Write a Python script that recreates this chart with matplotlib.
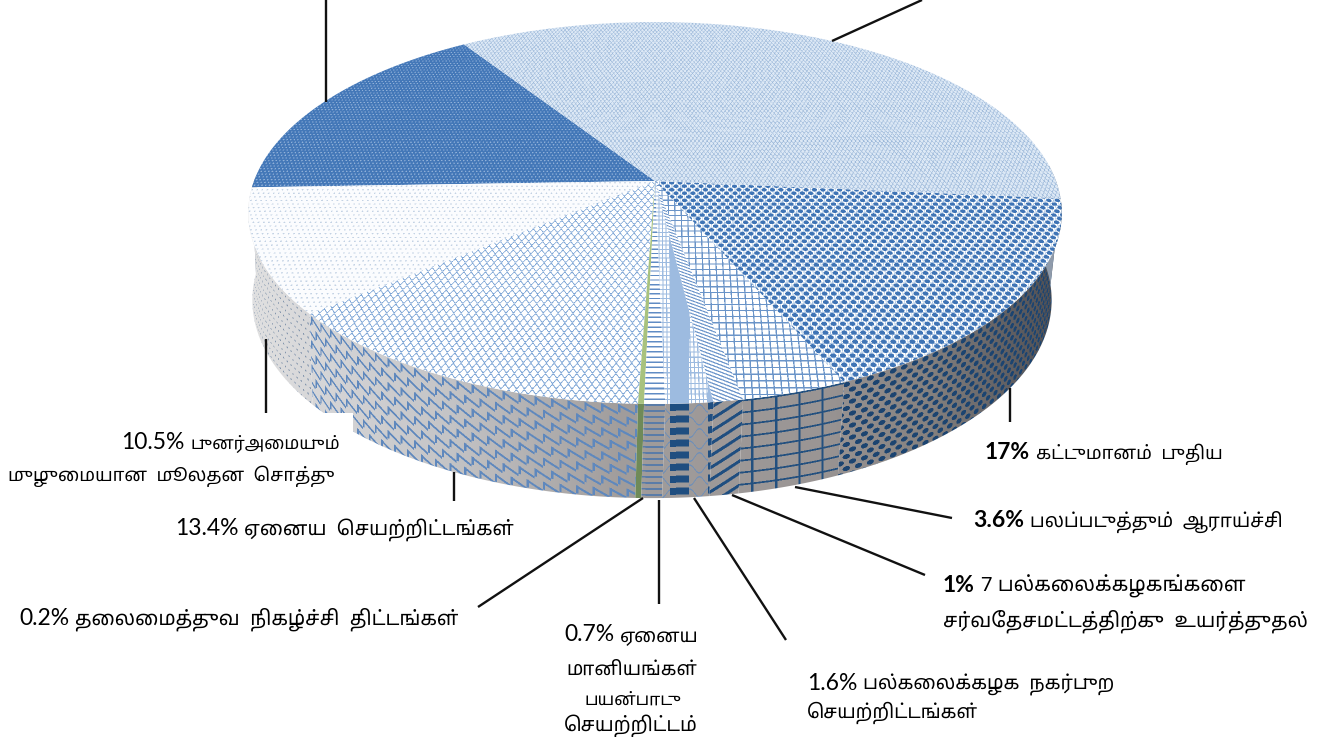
import numpy as np
import matplotlib
matplotlib.use("Agg")
import matplotlib.pyplot as plt
from matplotlib.patches import Polygon, Rectangle

W, H = 1327, 737

slice_names = ["dark", "white", "other", "lead", "grants", "campus", "intl", "research", "build", "big"]
slice_values = [16.4, 10.5, 13.4, 0.2, 0.7, 1.6, 1.0, 3.6, 17.0, 35.6]
start_angle = 122.9

pct_labels = ["10.5%", "13.4%", "0.2%", "0.7%", "1.6%", "1%", "3.6%", "17%"]
pct_bold = [False, False, False, False, False, True, True, True]
tamil_labels = [
    ["புனர்அமையும்", "முழுமையான  மூலதன  சொத்து"],
    ["ஏனைய  செயற்றிட்டங்கள்"],
    ["தலைமைத்துவ  நிகழ்ச்சி  திட்டங்கள்"],
    ["ஏனைய", "மானியங்கள்", "பயன்பாடு", "செயற்றிட்டம்"],
    ["பல்கலைக்கழக  நகர்புற", "செயற்றிட்டங்கள்"],
    ["7 பல்கலைக்கழகங்களை", "சர்வதேசமட்டத்திற்கு  உயர்த்துதல்"],
    ["பலப்படுத்தும்  ஆராய்ச்சி"],
    ["கட்டுமானம்  புதிய"],
]
# (x, baseline, right end) of each line
label_pos = [
    [(121, 449, 336), (8, 481, 334)],
    [(175, 535, 514)],
    [(19, 625, 458)],
    [(564, 641, 699), (566, 675, 697), (584, 705, 680), (564, 731, 698)],
    [(807, 690, 1115), (807, 718, 978)],
    [(943, 592, 1245), (943, 627, 1308)],
    [(973, 527, 1283)],
    [(985, 459, 1223)],
]
leaders = [
    [(326, 0), (326, 102)], [(922, 0), (832, 41)], [(266, 339), (266, 413)],
    [(454, 472), (454, 501)], [(643, 498), (478, 607)], [(659, 500), (659, 604)],
    [(694, 498), (786, 640)], [(732, 495), (925, 575)], [(795, 487), (952, 518)],
    [(1010, 388), (1010, 422)],
]

# pie top as a circle seen in perspective
K = 0.1675
TOP = dict(cx=655.0, cy=181.0, A=401.0, B=185.6)
BOT = dict(cx=652.0, cy=267.0, A=394.0, B=192.4)


def project(t, g):
    u, v = np.cos(t), np.sin(t)
    w = 1 + K * v
    return g["cx"] + g["A"] * u / w, g["cy"] - g["B"] * v / w


# pixel grid, 2x so patterns get some antialiasing
xs = (np.arange(W * 2) + 0.5) / 2
ys = (np.arange(H * 2) + 0.5) / 2
X, Y = np.meshgrid(xs, ys)
dy = TOP["cy"] - Y
v_ = dy / (TOP["B"] - K * dy)
w_ = 1 + K * v_
u_ = (X - TOP["cx"]) * w_ / TOP["A"]
S_top = u_ * TOP["A"] / (1 - K)
T_top = v_ * TOP["B"] / (1 - K) ** 2

rim_y = 213 + 191 * np.sqrt(np.clip(1 - ((X - 655) / 407) ** 2, 0, 1))
S_wall = 400 * np.arcsin(np.clip((X - 652) / 400, -1, 1))
T_wall = Y - rim_y


def down(mask):
    m = mask.astype(float)
    return (m[::2, ::2] + m[1::2, ::2] + m[::2, 1::2] + m[1::2, 1::2]) / 4


def hlines(t, py, lw):
    return (t % py) < lw


def vlines(s, px, lw):
    return (s % px) < lw


def wave(s, t, px, py, lw):
    row = np.floor(t / py)
    fs = (s / px + 0.5 * (row % 2)) % 1
    ft = (t / py) % 1
    arc = 0.5 + 0.34 * np.cos(2 * np.pi * fs)
    return np.abs(ft - arc) * py < lw / 2


def scales(s, t, px, py, lw):
    # sloped strokes with a short upright, like overlapping tiles
    row = np.floor(t / py)
    fs = (s / px + 0.5 * (row % 2)) % 1
    ft = (t / py) % 1
    slope = np.abs(ft - (0.15 + 0.7 * fs)) * py < lw / 2
    upright = (fs * px < lw) & (ft > 0.1) & (ft < 0.75)
    return slope | upright


def dots(s, t, px, py, rx, ry):
    row = np.floor(t / py)
    fs = ((s / px + 0.5 * (row % 2)) % 1 - 0.5) * px
    ft = ((t / py) % 1 - 0.5) * py
    return (fs / rx) ** 2 + (ft / ry) ** 2 < 1


def hexc(c):
    c = c.lstrip("#")
    return np.array([int(c[i:i + 2], 16) / 255 for i in (0, 2, 4)])


def paint(mask, bg, fg):
    m = down(mask)[..., None]
    return bg * (1 - m) + fg * m


def flat(c):
    return np.broadcast_to(hexc(c), (H, W, 3))


def top_image(name):
    s, t = S_top, T_top
    if name == "dark":
        return paint(dots(s, t, 4.5, 4.0, 1.0, 1.0), flat("#4478b8"), flat("#8fb0d8"))
    if name == "white":
        return paint(dots(s, t, 6.0, 5.0, 1.1, 0.9), flat("#fbfcfe"), flat("#c3d2e4"))
    if name == "other":
        return paint(wave(s, t, 8.0, 5.5, 1.5), flat("#ffffff"), flat("#7ea6d6"))
    if name == "lead":
        return flat("#a8c27e")
    if name == "grants":
        return paint(hlines(t, 5.5, 1.6), flat("#ffffff"), flat("#5f8bc4"))
    if name == "campus":
        band = ((X - 670) % 38) < 19
        return paint(band | hlines(t, 5.5, 1.2) | (s % 4 < 1.2), flat("#ffffff"), flat("#9dbbe0"))
    if name == "intl":
        return paint(((s * 0.4 + t) % 3.8) < 1.5, flat("#ffffff"), flat("#6f97cb"))
    if name == "research":
        return paint(vlines(s, 7.5, 1.4) | hlines(t, 7.0, 1.4), flat("#ffffff"), flat("#6a94c8"))
    if name == "build":
        img = paint(vlines(s, 5.0, 0.8) | hlines(t, 5.0, 0.8), flat("#ffffff"), flat("#a9c3e2"))
        return paint(dots(s, t, 10.0, 5.0, 3.2, 2.3), img, flat("#3f74b5"))
    return paint(wave(s, t, 5.0, 4.0, 1.3), flat("#dce8f5"), flat("#9db9da"))


# wall shading goes from light on the left to dark on the right
shade_x = [240, 320, 450, 620, 820, 930, 1000, 1065]
shade_c = ["#e2e2e2", "#d6d6d8", "#c4c4c6", "#a19d9c", "#9a9594", "#85817f", "#646366", "#4c4c50"]
shade = np.stack(
    [np.interp(np.arange(W) + 0.5, shade_x, [hexc(c)[i] for c in shade_c]) for i in range(3)], axis=1
)
wall_bg = np.broadcast_to(shade[None, :, :], (H, W, 3))


def wall_image(name):
    s, t = S_wall, T_wall
    if name == "white":
        return paint(dots(s, t, 9.0, 7.0, 1.6, 0.8), wall_bg, flat("#8496ad"))
    if name == "other":
        return paint(scales(s, t, 17.0, 12.0, 2.4), wall_bg, flat("#5f88bd"))
    if name == "lead":
        return flat("#6f8a58")
    if name == "grants":
        return paint(hlines(t, 6.0, 1.8), wall_bg, flat("#5a7ca8"))
    if name == "campus":
        band = ((X - 670) % 38) < 19
        img = paint(~band & wave(s, t, 19.0, 12.0, 1.5), wall_bg, flat("#6f8fb8"))
        return paint(band & ((t % 12) < 7), img, flat("#1f4e80"))
    if name == "intl":
        return paint(((t + 0.55 * s) % 12) < 3.6, wall_bg, flat("#1f4e80"))
    if name == "research":
        return paint(vlines(s, 25.0, 2.4) | hlines(t, 12.0, 1.8), wall_bg, flat("#23507f"))
    if name == "build":
        return paint(dots(s, t, 14.0, 6.0, 4.2, 2.4), wall_bg, flat("#1c4470"))
    return flat("#8f9bab")


# tamil vowel signs drawn before the consonant, matplotlib has no shaping for these
PRE = "\u0bc6\u0bc7\u0bc8"
SPLIT = {"\u0bca": ("\u0bc6", "\u0bbe"), "\u0bcb": ("\u0bc7", "\u0bbe"), "\u0bcc": ("\u0bc6", "\u0bd7")}


def visual(text):
    out = []
    for c in text:
        if c in PRE and out:
            out.insert(len(out) - 1, c)
        elif c in SPLIT and out:
            a, b = SPLIT[c]
            out.insert(len(out) - 1, a)
            out.append(b)
        else:
            out.append(c)
    return "".join(out)


fig = plt.figure(figsize=(W / 100, H / 100), dpi=100)
ax = fig.add_axes([0, 0, 1, 1])
ax.set_xlim(0, W)
ax.set_ylim(H, 0)
ax.axis("off")

edges = start_angle + np.cumsum([0] + slice_values) * 3.6


def draw_textured(img, poly, z):
    patch = Polygon(poly, closed=True, transform=ax.transData, fc="none", ec="none")
    ax.add_patch(patch)
    im = ax.imshow(img, extent=(0, W, H, 0), interpolation="nearest", zorder=z, aspect="auto")
    im.set_clip_path(patch)


# walls first, the top covers whatever is behind it
for name, a0, a1 in zip(slice_names, edges[:-1], edges[1:]):
    lo, hi = max(a0, 178), min(a1, 365)
    if hi <= lo:
        continue
    t = np.radians(np.linspace(lo, hi, 80))
    px, py = project(t, TOP)
    qx, qy = project(t[::-1], BOT)
    draw_textured(wall_image(name), np.c_[np.r_[px, qx], np.r_[py, qy]], 2)

ax.add_patch(Rectangle((110, 413), 243, 90, fc="white", ec="none", zorder=3))

for name, a0, a1 in zip(slice_names, edges[:-1], edges[1:]):
    t = np.radians(np.linspace(a0, a1, 200))
    px, py = project(t, TOP)
    poly = np.c_[np.r_[TOP["cx"], px], np.r_[TOP["cy"], py]]
    draw_textured(top_image(name), poly, 4)

for (x0, y0), (x1, y1) in leaders:
    ax.plot([x0, x1], [y0, y1], color="#111111", lw=1.7, zorder=5, solid_capstyle="butt")

ax.set_xlim(0, W)
ax.set_ylim(H, 0)

renderer = fig.canvas.get_renderer()
base_size = 14.0
for pct, bold, lines, pos in zip(pct_labels, pct_bold, tamil_labels, label_pos):
    x, y, _ = pos[0]
    p = ax.text(x, y, pct, family="Lato", fontsize=16.5, fontweight="bold" if bold else "normal",
                va="baseline", ha="left", color="black", zorder=6)
    x_after = p.get_window_extent(renderer).x1 + 6
    for i, line in enumerate(lines):
        lx, ly, right = pos[i]
        if i == 0:
            lx = x_after
        txt = ax.text(lx, ly, visual(line), family=["Noto Sans Tamil", "Lato"], fontsize=base_size,
                      va="baseline", ha="left", color="black", zorder=6)
        # scale the line to the width it has in the picture
        width = txt.get_window_extent(renderer).width
        txt.set_fontsize(np.clip(base_size * (right - lx) / width, 12.5, 16.5))

fig.savefig("out.png", dpi=100)
